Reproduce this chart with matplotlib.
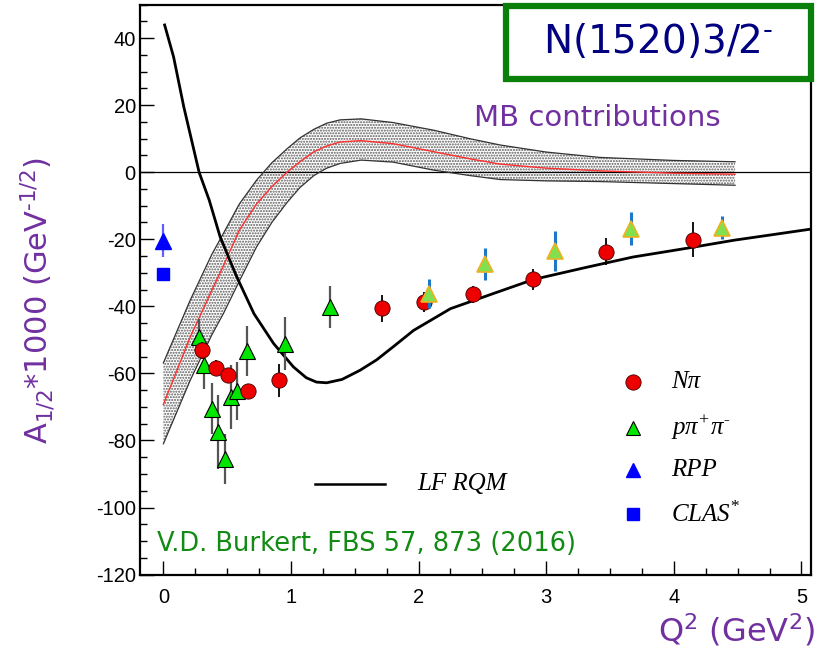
import matplotlib
matplotlib.use("Agg")
import matplotlib.pyplot as plt
from matplotlib.patches import Rectangle

plt.rcParams["axes.unicode_minus"] = False

# ---------------- data ----------------
# N pi (red circles)
npi_x = [0.306, 0.41, 0.51, 0.66, 0.91, 1.71, 2.04, 2.43, 2.90, 3.47, 4.15]
npi_y = [-53.1, -58.4, -60.6, -65.4, -62.1, -40.6, -38.6, -36.4, -32.0, -23.7, -20.2]
npi_e = [2.5, 2.5, 2.0, 2.0, 5.0, 4.0, 3.0, 2.6, 3.0, 4.0, 5.2]

# p pi+ pi- (green triangles, low Q2)
ppp_x = [0.28, 0.32, 0.38, 0.43, 0.485, 0.53, 0.575, 0.655, 0.95, 1.305]
ppp_y = [-49.2, -57.6, -70.5, -77.5, -85.5, -67.1, -65.3, -53.4, -51.1, -40.2]
ppp_e = [5.5, 7.0, 7.7, 11.0, 7.5, 9.5, 8.6, 7.5, 8.0, 6.4]

# p pi+ pi- (green triangles, high Q2)
pph_x = [2.08, 2.52, 3.07, 3.665, 4.38]
pph_y = [-36.2, -27.3, -23.5, -16.8, -16.5]
pph_e = [4.2, 4.8, 6.0, 4.9, 3.3]

# RPP and CLAS*
rpp_x, rpp_y, rpp_e = [0.0], [-20.4], [5.0]
clas_x, clas_y = [0.0], [-30.3]

# LF RQM curve
lf_x = [0.01, 0.08, 0.16, 0.28, 0.36, 0.445, 0.575, 0.71, 0.864, 1.02, 1.12, 1.20, 1.28,
        1.40, 1.54, 1.67, 1.80, 1.96, 2.25, 2.60, 2.90, 3.30, 3.68, 4.10, 4.47, 5.07]
lf_y = [43.9, 34.4, 19.5, 0.0, -8.4, -19.3, -31.2, -42.2, -51.1, -58.1, -61.3, -62.6, -62.8,
        -61.8, -59.1, -56.0, -52.1, -47.2, -40.7, -36.0, -32.0, -28.5, -25.3, -22.7, -20.3, -17.0]

# MB contributions band
mb_x = [0.0, 0.21, 0.38, 0.47, 0.595, 0.73, 0.85, 0.97, 1.07, 1.18, 1.28, 1.385, 1.55, 1.80, 2.12,
        2.40, 2.64, 3.00, 3.42, 4.00, 4.48]
mb_c = [-69.3, -49.2, -35.2, -28.0, -17.3, -9.5, -4.3, 0.0, 3.1, 6.1, 7.8, 9.0, 9.4, 8.5, 6.1,
        4.0, 2.4, 1.2, 0.4, -0.3, -0.6]
mb_u = [-56.9, -38.2, -24.5, -18.3, -9.5, -2.4, 2.8, 7.0, 10.2, 12.8, 14.6, 15.6, 15.9, 14.8, 12.5,
        10.0, 8.1, 6.0, 4.4, 3.5, 3.1]
mb_l = [-81.0, -62.1, -48.5, -42.2, -32.5, -22.3, -15.0, -9.0, -4.6, -1.0, 1.2, 2.6, 3.6, 3.0, 0.6,
        -1.0, -2.2, -2.6, -2.8, -3.4, -3.9]

# ---------------- figure ----------------
W, H = 818, 651
fig = plt.figure(figsize=(W / 100, H / 100), dpi=100)
L, R, T, B = 140, 811, 4.5, 574.6
ax = fig.add_axes([L / W, 1 - B / H, (R - L) / W, (B - T) / H])
ax.set_xlim(-0.183, 5.075)
ax.set_ylim(-120, 50)

purple = "#7030a0"
green_txt = "#138a13"

# band
ax.fill_between(mb_x, mb_l, mb_u, facecolor="white", edgecolor="0.35", hatch="......", linewidth=0, zorder=1)
ax.plot(mb_x, mb_u, color="0.2", lw=0.9, zorder=2)
ax.plot(mb_x, mb_l, color="0.2", lw=0.9, zorder=2)
ax.plot(mb_x, mb_c, color="#ff3030", lw=1.0, zorder=2)

ax.axhline(0, color="black", lw=0.9, zorder=1.5)

# LF RQM
ax.plot(lf_x, lf_y, color="black", lw=2.0, zorder=3)

# data
ax.errorbar(ppp_x, ppp_y, yerr=ppp_e, fmt="^", ms=11, mfc="#00e600", mec="black", mew=0.8,
             ecolor="#555555", elinewidth=1.6, capsize=0, zorder=5)
ax.errorbar(npi_x, npi_y, yerr=npi_e, fmt="o", ms=11, mfc="#ee0000", mec="#400000", mew=0.6,
             ecolor="black", elinewidth=1.3, capsize=0, zorder=6)
ax.errorbar(pph_x, pph_y, yerr=pph_e, fmt="^", ms=11, mfc="#80e050", mec="#f0b020", mew=1.2,
             ecolor="#1e78c8", elinewidth=2.2, capsize=0, zorder=7)
ax.errorbar(rpp_x, rpp_y, yerr=rpp_e, fmt="^", ms=12, mfc="#0000ff", mec="#0000ff",
             ecolor="#6060ff", elinewidth=1.6, capsize=0, zorder=6)
ax.plot(clas_x, clas_y, "s", ms=9, mfc="#0000ff", mec="#0000ff", zorder=6)

# ticks
ax.set_xticks([0, 1, 2, 3, 4, 5])
ax.set_xticks([i * 0.25 for i in range(0, 21)], minor=True)
ax.set_yticks([-120, -100, -80, -60, -40, -20, 0, 20, 40])
ax.set_yticks(list(range(-120, 51, 5)), minor=True)
ax.tick_params(which="both", direction="in", top=False, right=False, labelsize=14.5)
ax.tick_params(which="major", length=10, width=1.0)
ax.tick_params(which="minor", length=5, width=1.0)
ax.tick_params(axis="x", pad=10)
ax.tick_params(axis="y", pad=3)
for s in ax.spines.values():
    s.set_linewidth(1.6)
for lab in ax.get_xticklabels() + ax.get_yticklabels():
    lab.set_family("Liberation Sans")

# legend (manual)
leg_y = [-62.7, -76.2, -88.8, -102.0]
lx = 3.68
ax.plot([lx], [leg_y[0]], "o", ms=11, mfc="#ee0000", mec="#400000", mew=0.6)
ax.plot([lx], [leg_y[1]], "^", ms=10, mfc="#00e600", mec="black", mew=0.8)
ax.plot([lx], [leg_y[2]], "^", ms=10, mfc="#0000ff", mec="#0000ff")
ax.plot([lx], [leg_y[3]], "s", ms=9, mfc="#0000ff", mec="#0000ff")
tx = 3.98
sf = dict(family="Liberation Serif", style="italic", fontsize=18, va="center", ha="left")
ax.text(tx, leg_y[0], "N\u03c0", **sf)
ax.text(tx, leg_y[1], "p\u03c0$^{\\mathregular{+}}$\u03c0$^{\\mathregular{\u2010}}$", **sf)
ax.text(tx, leg_y[2], "RPP", **sf)
ax.text(tx, leg_y[3], "CLAS$^{\\mathregular{*}}$", **sf)

ax.plot([1.19, 1.74], [-93.0, -93.0], color="black", lw=1.8)
ax.text(1.99, -93.0, "LF RQM", **sf)

# texts
ax.text(-0.05, -111.0, "V.D. Burkert, FBS 57, 873 (2016)", color=green_txt, fontsize=18.5,
        family="DejaVu Sans", va="center", ha="left")
ax.text(3.40, 16.1, "MB contributions", color=purple, fontsize=21, family="DejaVu Sans",
        va="center", ha="center")

# title box
fig.patches.append(Rectangle((506 / W, 1 - 79 / H), (811 - 506) / W, (79 - 6) / H,
                             transform=fig.transFigure, facecolor="white",
                             edgecolor="#0a800a", lw=4.5, zorder=10))
fig.text(658 / W, 1 - 42 / H, "N(1520)3/2$^{\\mathregular{\u2010}}$", color="#000080", fontsize=28,
         family="DejaVu Sans", ha="center", va="center", zorder=11)

# axis labels
fig.text(38 / W, 1 - 300 / H, "A$_{\\mathregular{1/2}}$*1000 (GeV$^{\\mathregular{\u20101/2}}$)",
         color=purple, fontsize=22, rotation=90, ha="center", va="center", family="DejaVu Sans")
fig.text(815 / W, 1 - 630 / H, "Q$^{\\mathregular{2}}$ (GeV$^{\\mathregular{2}}$)", color=purple,
         fontsize=23, ha="right", va="center", family="DejaVu Sans")

fig.savefig("out.png", dpi=100)
